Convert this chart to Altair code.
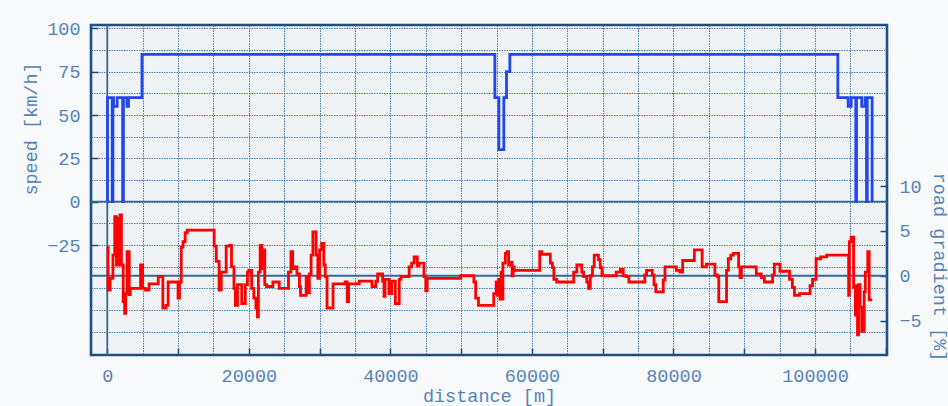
import altair as alt
import pandas as pd

# ---------------- data ----------------
speed_dist = [0, 30, 700, 800, 900, 1400, 2170, 2280, 2780, 3000, 4900,
              54760, 55330, 56030, 56410, 56880,
              103220, 104680, 105110, 105760, 105860, 106600, 107080, 107280, 107380, 108070]
speed_kmh = [0, 60, 0, 60, 55, 60, 0, 60, 55, 60, 85,
             60, 30, 60, 75, 85,
             60, 55, 60, 0, 60, 55, 60, 0, 60, 0]

grad_dist = [0, 100, 400, 800, 1050, 1300, 1420, 1550, 1800, 2000,
             2250, 2450, 2600, 2800, 3100, 3250, 4700, 5000, 5400, 5900,
             7200, 7850, 8300, 8600, 10000, 10200, 10450, 10700, 11000, 11300,
             15100, 15400, 15800, 16100, 16800, 17300,
             17550, 17900, 18100, 18400, 19000, 19500, 19800, 20000, 20400, 20700,
             21000, 21200, 21350, 21600, 21850, 22000, 22250, 22500, 23400, 24300,
             25600, 25950, 26200, 26450, 26800, 27150, 27300, 28100, 28350, 28550,
             28800, 29050, 29500, 29750, 30000, 30300, 30600, 30800, 31050, 31900,
             33600, 33900, 34100,
             35600, 37400, 37950, 38200, 38900, 39100, 39250, 39800, 40200, 40700,
             41250, 41500, 42650, 43000, 43350, 43800, 44050, 44750, 45000, 45200,
             49950, 51800, 52050, 52450,
             54600, 54950, 55150, 55300, 55500, 55650, 55780, 55900, 56250, 56500,
             56700, 57000, 57200, 57350, 57500, 61100, 61400, 62600, 62900, 63100,
             63500, 65900, 66350, 67050, 67300, 67750, 68000, 68250, 68550, 68800,
             69400, 69650, 69900,
             71900, 72500, 72900, 73300, 73700, 75950, 76200, 77000, 77250, 77500,
             78550, 78800, 80400, 80900, 81300, 82950, 84050, 84650, 85850, 86200,
             86400, 87500, 87750, 88100, 88450, 89200,
             89400, 89600, 91700, 92400, 92850, 94000, 94250, 95050, 96400, 96800,
             97100, 97800, 99300, 99650, 100150, 100800, 101650, 104750, 104850, 105100,
             105450, 105700, 105800, 106000, 106150, 106350, 106600, 106950, 107100, 107450,
             107650, 108080]
grad_pct = [3.2, -1.6, -0.3, 2.3, 6.6, 1.2, 6.4, 1.2, 6.8, 1.2,
            -2.9, -4.2, -2.0, 2.7, -2.1, -1.4, 1.2, -1.4, -1.6, -0.9,
            -0.1, -3.6, -3.3, -0.7, -2.5, -0.7, 3.2, 3.8, 4.8, 5.1,
            3.3, 1.6, -1.6, 0.4, 3.3, 3.4,
            1.0, -1.4, -3.3, -1.0, -3.1, -1.0, 0.4, 0.6, -1.4, -2.5,
            -3.6, -4.6, 0.4, 3.4, 0.8, 2.9, -1.0, -1.2, -0.7, -1.4,
            0.4, 2.7, 0.8, 1.0, 0.2, -1.2, -2.2, -0.1, -1.9, 0.2,
            2.3, 4.9, 2.3, -0.3, 2.9, 3.6, 1.2, -0.1, -3.6, -0.9,
            -0.7, -2.9, -0.9,
            -0.6, -1.2, -0.6, 0.2, -0.6, -2.3, -0.4, -2.0, -0.6, -3.1,
            -0.4, -0.1, 1.0, 1.4, 2.1, 1.1, 1.4, -0.1, -1.7, -0.3,
            0.0, -0.7, -2.5, -3.3,
            -2.0, -0.7, -2.2, -0.4, -2.6, 0.4, -2.6, 1.4, 2.5, 2.7,
            1.2, 1.5, 0.0, 1.0, 0.6, 2.7, 2.4, 1.4, 0.9, -0.4,
            -0.7, 0.4, 1.2, 0.4, -0.1, -0.7, -1.4, 0.0, 1.0, 2.3,
            1.8, 0.9, 0.0,
            0.4, 0.7, 0.0, -0.1, -0.7, 0.1, 0.6, 0.1, -1.0, -1.8,
            -0.5, 1.0, 0.6, 0.4, 1.7, 2.9, 1.0, 1.3, 0.1, -0.1,
            -2.9, 0.6, 1.9, 2.3, 2.5, 1.0,
            -0.2, 1.0, 0.2, -0.2, -0.7, 0.1, 1.3, 0.5, -0.4, -1.3,
            -2.2, -2.0, -1.1, -0.4, 1.9, 2.1, 2.3, -2.2, 3.8, 4.3,
            -1.3, -4.4, -1.1, -6.6, -1.0, -3.5, -6.2, -1.8, 0.4, 2.7,
            -2.7, -2.7]

x_domain = [-2300, 110170]
speed_domain = [-88.4, 101.9]
grad_domain = [-8.85, 28.0]

x_grid_values = list(range(0, 110001, 5000))
x_tick_values = list(range(0, 110001, 10000))
speed_grid_values = [-75 + 12.5 * i for i in range(15)]
speed_tick_values = [-25, 0, 25, 50, 75, 100]
grad_tick_values = [-5, 0, 5, 10]

# ---------------- styling ----------------
FONT = "Liberation Mono"
FS = 18.5
TXT = "#5585b8"
FRAME = "#1b4f86"
GRID = "#2a67a3"
ZERO = "#33689a"

speed_df = pd.DataFrame({"distance": speed_dist, "speed": speed_kmh})
grad_df = pd.DataFrame({"distance": grad_dist, "gradient": grad_pct})
zero_df = pd.DataFrame({"zero": [0]})

xscale = alt.Scale(domain=x_domain, nice=False, zero=False)
sscale = alt.Scale(domain=speed_domain, nice=False, zero=False)
gscale = alt.Scale(domain=grad_domain, nice=False, zero=False)

text_common = dict(labelFont=FONT, labelFontSize=FS, labelColor=TXT,
                   titleFont=FONT, titleFontSize=FS, titleFontWeight="normal",
                   titleColor=TXT)

grid_common = dict(grid=True, gridDash=[1.5, 1], gridColor=GRID, gridWidth=1,
                   gridOpacity=0.85)

x_axis_main = alt.Axis(
    orient="bottom", values=x_grid_values, format="d",
    labelExpr="datum.value % 20000 === 0 ? datum.label : ''",
    ticks=False, tickSize=0, domain=False, labelPadding=11,
    labelOverlap=False, labelFlush=False,
    title="distance [m]", titleX=398, titleY=40, titleBaseline="middle",
    titleAlign="center", **grid_common, **text_common)

x_axis_ticks = alt.Axis(
    orient="bottom", values=x_tick_values, offset=-7, tickSize=7, ticks=True,
    tickColor=FRAME, tickWidth=1.5, labels=False, domain=False, grid=False,
    title=None)

speed_axis_main = alt.Axis(
    orient="left", values=speed_grid_values,
    labelExpr="(datum.value % 25 === 0 && datum.value >= -25) ? datum.label : ''",
    ticks=False, tickSize=0, domain=False, labelPadding=11,
    labelOverlap=False, labelFlush=False,
    title="speed [km/h]", titleAngle=270, titleX=-60.5, titleY=103.5,
    titleBaseline="middle", titleAlign="center", **grid_common, **text_common)

speed_axis_ticks = alt.Axis(
    orient="left", values=speed_tick_values, offset=-7, tickSize=7, ticks=True,
    tickColor=FRAME, tickWidth=1.5, labels=False, domain=False, grid=False,
    title=None)

grad_axis_main = alt.Axis(
    orient="right", values=grad_tick_values, grid=False,
    ticks=False, tickSize=0, domain=False, labelPadding=12,
    labelOverlap=False, labelFlush=False,
    title="road gradient [%]", titleAngle=90, titleX=52, titleY=241.5,
    titleBaseline="middle", titleAlign="center", **text_common)

grad_axis_ticks = alt.Axis(
    orient="right", values=grad_tick_values, offset=-7, tickSize=7, ticks=True,
    tickColor=FRAME, tickWidth=1.5, labels=False, domain=False, grid=False,
    title=None)

zero_x = alt.Chart(zero_df).mark_rule(color=ZERO, strokeWidth=1.8).encode(
    x=alt.X("zero:Q", scale=xscale, axis=x_axis_ticks))
zero_speed = alt.Chart(zero_df).mark_rule(color=ZERO, strokeWidth=1.8).encode(
    y=alt.Y("zero:Q", scale=sscale, axis=speed_axis_ticks))
zero_grad = alt.Chart(zero_df).mark_rule(color=ZERO, strokeWidth=1.8).encode(
    y=alt.Y("zero:Q", scale=gscale, axis=grad_axis_ticks))

speed_line = alt.Chart(speed_df).mark_line(
    interpolate="step-after", color="#2246ee", strokeWidth=2.8).encode(
    x=alt.X("distance:Q", scale=xscale, axis=x_axis_main),
    y=alt.Y("speed:Q", scale=sscale, axis=speed_axis_main))

grad_line = alt.Chart(grad_df).mark_line(
    interpolate="step-after", color="#ff0000", strokeWidth=2.8).encode(
    x=alt.X("distance:Q", scale=xscale, axis=None),
    y=alt.Y("gradient:Q", scale=gscale, axis=grad_axis_main))

chart = alt.layer(zero_x, zero_speed, zero_grad, speed_line, grad_line).resolve_scale(
    y="independent").resolve_axis(x="independent", y="independent").properties(
    width=796, height=330,
    padding={"left": 91, "top": 25, "right": 61, "bottom": 51},
    autosize=alt.AutoSizeParams(type="none"),
    background="#f8f9fa",
).configure_view(fill="#eff3f5", stroke=FRAME, strokeWidth=2.6)

chart.save("out.html", embed_options={"renderer": "svg", "actions": False})
